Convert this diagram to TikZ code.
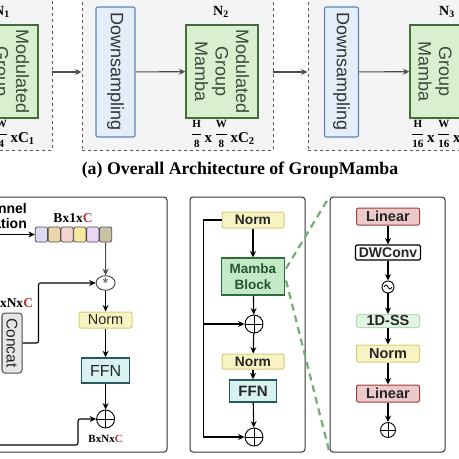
\documentclass[tikz,border=0pt]{standalone}
\usepackage{fontspec}
\setmainfont{Liberation Serif}
\setsansfont{Liberation Sans}
\usepackage{amsmath}
\usepackage{tikz}
\usetikzlibrary{shapes, shapes.geometric, arrows.meta, positioning, calc}
\definecolor{stagebg}{HTML}{F4F4F4}
\definecolor{stageline}{HTML}{5A5A5A}
\definecolor{grpfill}{HTML}{D9EFCF}
\definecolor{grpline}{HTML}{3F6F3F}
\definecolor{grptext}{HTML}{3B4B3B}
\definecolor{dsfill}{HTML}{E3EEF8}
\definecolor{dsline}{HTML}{5A86B8}
\definecolor{normfill}{HTML}{F7F3C3}
\definecolor{normline}{HTML}{D6CD7A}
\definecolor{ffnfill}{HTML}{D8F1F1}
\definecolor{ffnline}{HTML}{27595C}
\definecolor{mambafill}{HTML}{C3E9C6}
\definecolor{mambaline}{HTML}{2F6B3B}
\definecolor{linfill}{HTML}{ECCACA}
\definecolor{linline}{HTML}{9B3D3D}
\definecolor{ssfill}{HTML}{E2F4E2}
\definecolor{ssline}{HTML}{B5DAB5}
\definecolor{catfill}{HTML}{E6E6E6}
\definecolor{zoomgreen}{HTML}{74AD74}
\definecolor{redC}{HTML}{B23A3A}
\definecolor{arrgray}{HTML}{4D4D4D}
\definecolor{cellA}{HTML}{DCD9F3}
\definecolor{cellB}{HTML}{ECD5AB}
\definecolor{cellC}{HTML}{F3D4D1}
\definecolor{cellD}{HTML}{F4EB9F}
\definecolor{cellE}{HTML}{EBD7F3}
\definecolor{cellF}{HTML}{C9C2A4}
\newcommand{\dimfrac}[2]{\raisebox{5pt}{$\dfrac{\text{\fontsize{11}{11}\selectfont\bfseries #1}}{\text{\fontsize{11}{11}\selectfont\bfseries #2}}$}}

\begin{document}
\begin{tikzpicture}[x=1pt, y=-1pt,
  stage/.style={draw=stageline, dashed, line width=0.9pt, fill=stagebg, minimum height=156pt},
  grp/.style={draw=grpline, line width=1.1pt, fill=grpfill, rotate=-90, minimum width=93pt,
              minimum height=72pt, inner sep=1pt, align=center, text=grptext,
              font=\sffamily\fontsize{18}{20.5}\selectfont},
  ds/.style={draw=dsline, line width=1.1pt, fill=dsfill, rounded corners=2pt, rotate=-90,
             minimum width=130pt, inner sep=1pt, text=black!80,
             font=\sffamily\fontsize{18}{20}\selectfont},
  stlab/.style={font=\bfseries\fontsize{14}{16}\selectfont},
  dimlab/.style={font=\bfseries\fontsize{15}{17}\selectfont, inner sep=0pt},
  panel/.style={draw=black!80, line width=1pt, rounded corners=3pt, fill=white, minimum height=255pt},
  blk/.style={draw, rounded corners=2pt, inner sep=1pt, align=center, text=black!85},
  norm/.style={blk, fill=normfill, draw=normline, line width=1pt},
  ffn/.style={blk, fill=ffnfill, draw=ffnline, line width=1.5pt, rounded corners=0pt},
  lin/.style={blk, fill=linfill, draw=linline, line width=1pt, minimum width=63pt, minimum height=17pt},
  cell/.style={draw=black!70, line width=0.8pt, rounded corners=1.5pt, minimum width=12.3pt,
               minimum height=15pt, inner sep=0pt},
  addnode/.style={circle, draw, line width=0.9pt, inner sep=0pt, minimum size=18pt,
              path picture={\draw[line width=0.9pt] (path picture bounding box.north) -- (path picture bounding box.south)
              (path picture bounding box.west) -- (path picture bounding box.east);}},
  arr/.style={-{Stealth[length=6.5pt,width=6pt]}, line width=1.1pt},
  arrtop/.style={arr, arrgray},
  zoomline/.style={zoomgreen, line width=2.2pt, dash pattern=on 7pt off 5pt},
]
\useasboundingbox (0,0) rectangle (459,459);
\fill[white] (0,0) rectangle (459,459);
\clip (0,0) rectangle (459,459);

% Stages
\node[stage, minimum width=202pt] (st1) at (-49,72) {};
\node[stage, minimum width=191pt] (st2) at (177.5,72) {};
\node[stage, minimum width=212pt] (st3) at (414,72) {};

\node[grp] (n1) at (2,71.5) {Modulated\\Group\\Mamba};
\node[ds, minimum height=39pt] (ds1) at (115.5,72) {Downsampling};
\node[grp] (n2) at (222,71.5) {Modulated\\Group\\Mamba};
\node[ds, minimum height=34pt] (ds2) at (341.5,72) {Downsampling};
\node[grp] (n3) at (446,71.5) {};
\node[grp, draw=none, fill=none] (n3txt) at (435,71.5) {Group\\Mamba};

\node[stlab] (n1lab) at (2,12) {N\textsubscript{1}};
\node[stlab] (n2lab) at (221,12) {N\textsubscript{2}};
\node[stlab] (n3lab) at (447,12) {N\textsubscript{3}};

% Sizes under the stages
\node[dimlab] (n1dim) at (3,134) {\dimfrac{H}{4}\,x\,\dimfrac{W}{4}\,xC\textsubscript{1}};
\node[dimlab] (n2dim) at (223,134) {\dimfrac{H}{8}\,x\,\dimfrac{W}{8}\,xC\textsubscript{2}};
\node[dimlab, anchor=west] (n3dim) at (411,134) {\dimfrac{H}{16}\,x\,\dimfrac{W}{16}\,xC\textsubscript{3}};

\draw[arrtop] (st1) -- (st2);
\draw[arrtop] (ds1) -- (n2);
\draw[arrtop] (st2) -- (st3);
\draw[arrtop] (ds2) -- (n3);

\node[font=\bfseries\fontsize{17.8}{20}\selectfont] (capa) at (240,170) {(a) Overall Architecture of GroupMamba};

% Panels
\node[panel, minimum width=217pt] (p1) at (58.5,324.5) {};
\node[panel, minimum width=115pt] (p2) at (247.5,324.5) {};
\node[panel, minimum width=115pt] (p3) at (387.5,324.5) {};

% Panel 1: modulation
\node[anchor=east, align=right, inner sep=0pt, font=\sffamily\bfseries\fontsize{14}{15}\selectfont] (cm) at (27,215.5) {Channel\\Modulation};
\foreach \c [count=\i] in {cellA,cellB,cellC,cellD,cellE,cellF}
  \node[cell, fill=\c] (bar\i) at ({28.6+12.83*\i},234.5) {};
\coordinate (cmin) at (-2,234.5);
\draw[arr] (cmin) -- (bar1);
\node[font=\bfseries\fontsize{13.5}{15}\selectfont] (barlab) at (73,218) {Bx1x\textcolor{redC}{C}};

\node[ellipse, draw=black!75, line width=0.9pt, minimum width=19pt, minimum height=14pt, inner sep=0pt,
      font=\sffamily\fontsize{15}{15}\selectfont, text=black!70] (ast) at (105.6,283) {\raisebox{-3pt}{*}};
\draw[arr, black!70] (bar6) -- (ast);

\node[blk, fill=catfill, draw=black!70, line width=1pt, rotate=-90, minimum width=60pt, minimum height=20pt,
      rounded corners=3pt, font=\sffamily\fontsize{15.5}{17}\selectfont] (concat) at (12,343) {Concat};
\node[font=\bfseries\fontsize{13.5}{15}\selectfont] (catlab) at (12,303) {BxNx\textcolor{redC}{C}};
\draw[arr, rounded corners=2pt] (concat.north) -- ++(16,0) |- (ast);

\node[norm, minimum width=53pt, minimum height=16pt, font=\sffamily\fontsize{14.5}{16}\selectfont] (norm1) at (105.6,320) {Norm};
\node[ffn, minimum width=48pt, minimum height=25pt, font=\sffamily\fontsize{16}{18}\selectfont] (ffn1) at (105.6,370.5) {FFN};
\node[addnode] (plus1) at (105.6,419) {};
\node[font=\bfseries\fontsize{11}{12}\selectfont] (outlab) at (105.6,439) {BxNx\textcolor{redC}{C}};

\draw[arr] (ast) -- (norm1);
\draw[arr] (norm1) -- (ffn1);
\draw[arr] (ffn1) -- (plus1);
\coordinate (resin) at (-2,445);
\draw[arr, rounded corners=2pt] (resin) -- (78,445) |- (plus1);

% Panel 2: block
\node[norm, minimum width=62pt, minimum height=16pt, font=\sffamily\bfseries\fontsize{13.8}{15}\selectfont] (norm2a) at (253,220) {Norm};
\node[blk, fill=mambafill, draw=mambaline, line width=1.1pt, rounded corners=0pt, minimum width=63pt, minimum height=37pt,
      text=mambaline!80!black, font=\sffamily\bfseries\fontsize{13.5}{16}\selectfont] (mamba) at (253,276.5) {Mamba\\Block};
\node[addnode] (plus2a) at (254,324) {};
\node[norm, minimum width=62pt, minimum height=15pt, font=\sffamily\bfseries\fontsize{13.8}{15}\selectfont] (norm2b) at (253,361.5) {Norm};
\node[ffn, minimum width=47pt, minimum height=22pt, font=\sffamily\bfseries\fontsize{15}{17}\selectfont] (ffn2) at (253,391) {FFN};
\node[addnode] (plus2b) at (254,437) {};

\draw[arr] (norm2a) -- (mamba);
\draw[arr] (mamba) -- (plus2a);
\draw[arr] (plus2a) -- (norm2b);
\draw[arr] (norm2b) -- (ffn2);
\draw[arr] (ffn2) -- (plus2b);
\draw[arr] (norm2a.west) -- ++(-18,0) coordinate (skip) |- (plus2b);
\draw[arr] (skip |- plus2a) -- (plus2a);

% Zoom lines
\draw[zoomline] ($(mamba.east)+(1,-8)$) -- (p3.north west);
\draw[zoomline] ($(mamba.east)+(1,4)$) -- (p3.south west);

% Panel 3: mamba block
\node[lin, font=\sffamily\bfseries\fontsize{14.5}{16}\selectfont] (lin1) at (388,216.5) {Linear};
\node[blk, fill=white, draw=black, line width=1.1pt, rounded corners=1.5pt, minimum width=65pt, minimum height=15pt,
      inner sep=0.5pt, font=\sffamily\bfseries\fontsize{14}{15}\selectfont] (dwc) at (388,252.5) {DWConv};
\node[circle, draw, line width=0.9pt, minimum size=12pt, inner sep=0pt,
      path picture={\draw[line width=0.8pt] ([xshift=-4pt]path picture bounding box.center)
        sin ++(2pt,2pt) cos ++(2pt,-2pt) sin ++(2pt,-2pt) cos ++(2pt,2pt);}] (act) at (388,287) {};
\node[blk, fill=ssfill, draw=ssline, line width=1pt, minimum width=63pt, minimum height=13pt,
      font=\sffamily\bfseries\fontsize{14.5}{16}\selectfont] (ss) at (388,321) {1D-SS};
\node[norm, minimum width=63pt, minimum height=17pt, font=\sffamily\bfseries\fontsize{14.5}{16}\selectfont] (norm3) at (388,353.5) {Norm};
\node[lin, font=\sffamily\bfseries\fontsize{14.5}{16}\selectfont] (lin2) at (388,393.5) {Linear};
\node[addnode, minimum size=15pt] (plus3) at (388,430) {};

\draw[arr] (lin1) -- (dwc);
\draw[arr] (dwc) -- (act);
\draw[arr] (act) -- (ss);
\draw[arr] (ss) -- (norm3);
\draw[arr] (norm3) -- (lin2);
\draw[arr] (lin2) -- (plus3);
\end{tikzpicture}
\end{document}
